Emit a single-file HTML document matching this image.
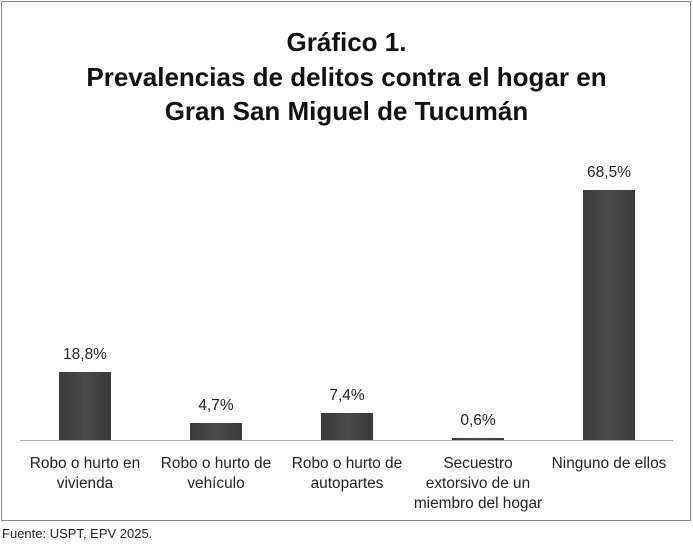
<!DOCTYPE html>
<html><head><meta charset="utf-8"><style>
body{margin:0;width:693px;height:544px;background:#fff;position:relative;font-family:"Liberation Sans",sans-serif;color:#222;overflow:hidden}
.box{position:absolute;left:1px;top:1px;width:688px;height:518px;border:1.5px solid #888;}
.t{position:absolute;left:0;width:693px;text-align:center;font-weight:bold;font-size:26px;color:#111}
.bar{position:absolute;width:52px;background:linear-gradient(90deg,#3a3a3a,#4a4a4a 50%,#3a3a3a);}
.v{position:absolute;width:100px;text-align:center;font-size:15.5px}
.l{position:absolute;width:140px;text-align:center;font-size:15.4px;line-height:20px;top:454px}
</style></head><body>
<div class="box"></div>
<div class="t" style="top:27px">Gráfico 1.</div>
<div class="t" style="top:62px">Prevalencias de delitos contra el hogar en</div>
<div class="t" style="top:96px">Gran San Miguel de Tucumán</div>
<div style="position:absolute;left:20px;top:440px;width:653px;height:1px;background:#aaa"></div>
<div class="bar" style="left:59px;top:372px;height:68px"></div>
<div class="bar" style="left:190px;top:423px;height:17px"></div>
<div class="bar" style="left:321px;top:413px;height:27px"></div>
<div class="bar" style="left:452px;top:438px;height:2px"></div>
<div class="bar" style="left:583px;top:190px;height:250px"></div>
<div class="v" style="left:35px;top:346px">18,8%</div>
<div class="v" style="left:166px;top:397px">4,7%</div>
<div class="v" style="left:297px;top:387px">7,4%</div>
<div class="v" style="left:428px;top:412px">0,6%</div>
<div class="v" style="left:559px;top:164px">68,5%</div>
<div class="l" style="left:15px">Robo o hurto en<br>vivienda</div>
<div class="l" style="left:146px">Robo o hurto de<br>vehículo</div>
<div class="l" style="left:277px">Robo o hurto de<br>autopartes</div>
<div class="l" style="left:408px">Secuestro<br>extorsivo de un<br>miembro del hogar</div>
<div class="l" style="left:539px">Ninguno de ellos</div>
<div style="position:absolute;left:2px;top:526px;font-size:13px">Fuente: USPT, EPV 2025.</div>
</body></html>
